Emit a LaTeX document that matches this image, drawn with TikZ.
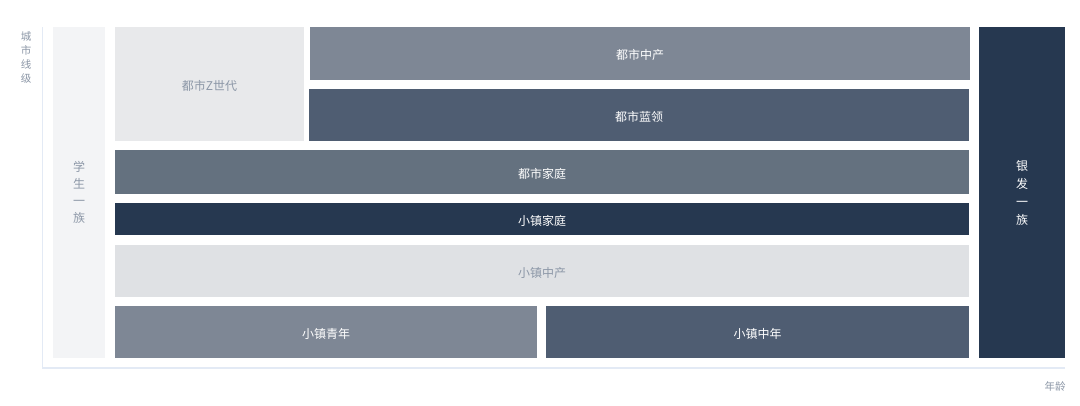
\documentclass[tikz,border=0pt]{standalone}
\usepackage{fontspec}
\setmainfont{Noto Sans CJK SC}
\definecolor{axisc}{HTML}{E3EAF5}
\definecolor{lbl}{HTML}{8C97A7}
\definecolor{cstu}{HTML}{F3F4F6}
\definecolor{cz}{HTML}{E8E9EB}
\definecolor{cmid}{HTML}{7E8795}
\definecolor{cblue}{HTML}{4F5D72}
\definecolor{cfam}{HTML}{64717F}
\definecolor{cdark}{HTML}{263850}
\definecolor{clight}{HTML}{DFE1E4}
\tikzset{
  blk/.style={anchor=north west, inner sep=0pt, outer sep=0pt, font=\fontsize{12}{17}\selectfont, align=center},
  darktext/.style={text=white},
  lighttext/.style={text=lbl},
  txt/.style={label={[font=\fontsize{12}{17}\selectfont, text=#1, inner sep=0pt, yshift=-1.8pt]center:}},
  axis/.style={draw=axisc, line width=1.2pt},
}
\begin{document}
\begin{tikzpicture}[x=1pt,y=-1pt]
\useasboundingbox[fill=white] (0,0) rectangle (1080,405);
% axes
\coordinate (ytop) at (42.5,27);
\coordinate (orig) at (42.5,368);
\coordinate (xend) at (1065,368);
\draw[axis] (ytop) -- (orig) -- (xend);
\node[font=\fontsize{10.5}{14}\selectfont, text=lbl, align=center, anchor=north] (ylab) at (26,28) {城\\市\\线\\级};
\node[font=\fontsize{10.5}{12}\selectfont, text=lbl, anchor=center] (xlab) at (1055,386.5) {年龄};
% blocks
\node[blk, fill=cstu, lighttext, minimum width=52pt, minimum height=331pt] (stu) at (53,27) {学\\生\\一\\族};
\node[blk, fill=cz, minimum width=189pt, minimum height=114pt, label={[font=\fontsize{12}{17}\selectfont, text=lbl, yshift=-1.8pt]center:都市Z世代}] (gz) at (115,27) {};
\node[blk, fill=cmid, minimum width=660pt, minimum height=53pt, label={[font=\fontsize{12}{17}\selectfont, text=white, yshift=-1.8pt]center:都市中产}] (dszc) at (310,27) {};
\node[blk, fill=cblue, minimum width=660pt, minimum height=52pt, label={[font=\fontsize{12}{17}\selectfont, text=white, yshift=-1.8pt]center:都市蓝领}] (dsll) at (309,89) {};
\node[blk, fill=cfam, minimum width=854pt, minimum height=44pt, label={[font=\fontsize{12}{17}\selectfont, text=white, yshift=-1.8pt]center:都市家庭}] (dsjt) at (115,150) {};
\node[blk, fill=cdark, minimum width=854pt, minimum height=32pt, label={[font=\fontsize{12}{17}\selectfont, text=white, yshift=-1.8pt]center:小镇家庭}] (xzjt) at (115,203) {};
\node[blk, fill=clight, minimum width=854pt, minimum height=52pt, label={[font=\fontsize{12}{17}\selectfont, text=lbl, yshift=-1.8pt]center:小镇中产}] (xzzc) at (115,245) {};
\node[blk, fill=cmid, minimum width=422pt, minimum height=52pt, label={[font=\fontsize{12}{17}\selectfont, text=white, yshift=-1.8pt]center:小镇青年}] (xzqn) at (115,306) {};
\node[blk, fill=cblue, minimum width=423pt, minimum height=52pt, label={[font=\fontsize{12}{17}\selectfont, text=white, yshift=-1.8pt]center:小镇中年}] (xzzn) at (546,306) {};
\node[blk, fill=cdark, darktext, minimum width=86pt, minimum height=331pt, font=\fontsize{12}{18}\selectfont] (yf) at (979,27) {银\\发\\一\\族};
\end{tikzpicture}
\end{document}
